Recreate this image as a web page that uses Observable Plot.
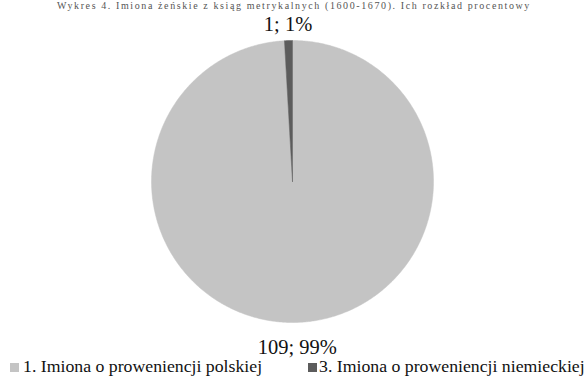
<!DOCTYPE html>
<html>
<head>
<meta charset="utf-8">
<script src="https://cdn.jsdelivr.net/npm/d3@7"></script>
<script src="https://cdn.jsdelivr.net/npm/@observablehq/plot@0.6"></script>
<style>
  html, body { margin: 0; padding: 0; background: #fff; }
  body { width: 588px; height: 377px; position: relative; overflow: hidden; font-family: "Liberation Serif", "Times New Roman", serif; }
  #title { position: absolute; left: 0; width: 588px; top: 1px; text-align: center; font-size: 10px; line-height: 10px; letter-spacing: 1.6px; color: #555; white-space: nowrap; }
  #chart { position: absolute; left: 0; top: 0; }
  .leg { position: absolute; top: 357px; font-size: 17.75px; line-height: 18px; color: #111; white-space: nowrap; }
  .sw { position: absolute; width: 9px; height: 9px; top: 363px; }
</style>
</head>
<body>
<div id="chart"></div>
<div id="title">Wykres 4. Imiona żeńskie z ksiąg metrykalnych (1600-1670). Ich rozkład procentowy</div>
<div id="legend"></div>
<script>
const categories = ["1. Imiona o proweniencji polskiej", "3. Imiona o proweniencji niemieckiej"];
const values = [109, 1];
const colors = ["#c4c4c4", "#5c5c5c"];

const total = d3.sum(values);
const arcs = d3.pie().sort(null).startAngle(0).endAngle(2 * Math.PI)(values);

// polygon points of each slice (angles clockwise from 12 o'clock)
const slicePts = [];
arcs.forEach((a, i) => {
  const cat = categories[i];
  slicePts.push({cat, x: 0, y: 0});
  const n = Math.max(2, Math.ceil((a.endAngle - a.startAngle) / (Math.PI / 360)));
  for (let k = 0; k <= n; k++) {
    const t = a.startAngle + (a.endAngle - a.startAngle) * k / n;
    slicePts.push({cat, x: Math.sin(t), y: Math.cos(t)});
  }
  slicePts.push({cat, x: 0, y: 0});
});

const labels = arcs.map((a, i) => {
  const m = (a.startAngle + a.endAngle) / 2;
  const r = 1.145 - 0.03 * Math.cos(m);
  return {
    cat: categories[i],
    x: r * Math.sin(m),
    y: r * Math.cos(m),
    text: `${values[i]}; ${Math.round(100 * values[i] / total)}%`
  };
});

const chart = Plot.plot({
  width: 588,
  height: 377,
  margin: 0,
  x: {domain: [-292 / 141, 296 / 141], axis: null},
  y: {domain: [(181 - 377) / 141, 181 / 141], axis: null},
  color: {domain: categories, range: colors},
  style: {background: "#fff", fontFamily: "Liberation Serif, Times New Roman, serif"},
  marks: [
    Plot.line(slicePts, {x: "x", y: "y", z: "cat", fill: "cat", stroke: "cat", strokeWidth: 0.5, curve: "linear"}),
    Plot.text(labels, {x: "x", y: "y", text: "text", fontSize: 20.5, fill: "#111"})
  ]
});
document.getElementById("chart").appendChild(chart);

const legendX = [[10, 23], [308, 319]];
const legend = document.getElementById("legend");
categories.forEach((c, i) => {
  const sw = document.createElement("div");
  sw.className = "sw";
  sw.style.left = legendX[i][0] + "px";
  sw.style.background = colors[i];
  legend.appendChild(sw);
  const t = document.createElement("div");
  t.className = "leg";
  t.style.left = legendX[i][1] + "px";
  t.textContent = c;
  legend.appendChild(t);
});
</script>
</body>
</html>
